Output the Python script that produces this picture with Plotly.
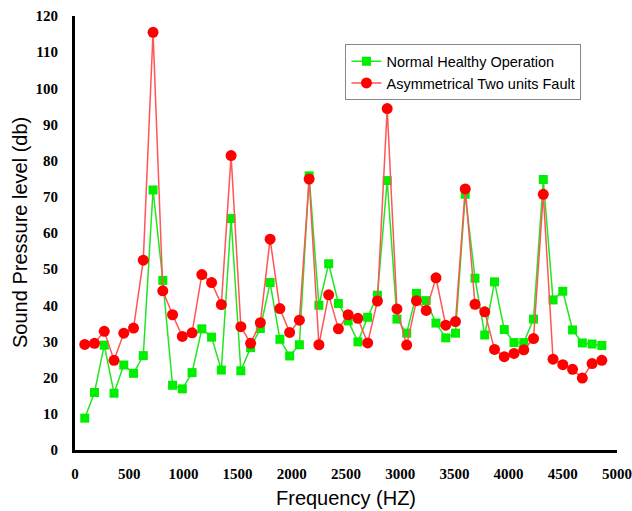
import plotly.graph_objects as go

freq_hz = [90 * k for k in range(1, 55)]

normal_healthy = [
    8.8, 15.9, 29.0, 15.7, 23.5, 21.2, 26.1, 71.9, 46.9, 17.9,
    16.9, 21.4, 33.5, 31.2, 22.1, 64.0, 21.9, 28.3, 33.6, 46.3,
    30.6, 26.0, 29.1, 75.8, 40.0, 51.5, 40.5, 35.7, 29.9, 36.7,
    42.8, 74.5, 36.2, 32.3, 43.3, 41.3, 35.1, 31.0, 32.3, 70.7,
    47.5, 31.8, 46.5, 33.3, 29.7, 29.7, 36.2, 74.8, 41.5, 43.9,
    33.2, 29.6, 29.3, 28.9,
]

asym_fault = [
    29.2, 29.5, 32.8, 24.8, 32.3, 33.7, 52.5, 115.5, 44.0, 37.4,
    31.4, 32.4, 48.5, 46.3, 40.2, 81.4, 34.1, 29.5, 35.2, 58.3,
    39.1, 32.5, 35.9, 74.9, 29.1, 42.9, 33.5, 37.4, 36.4, 29.6,
    41.2, 94.4, 39.0, 29.0, 41.3, 38.6, 47.6, 34.5, 35.5, 72.2,
    40.3, 38.2, 27.8, 25.8, 26.7, 27.7, 30.8, 70.7, 25.1, 23.6,
    22.3, 19.9, 23.9, 24.8,
]

x_ticks = [0, 500, 1000, 1500, 2000, 2500, 3000, 3500, 4000, 4500, 5000]
y_ticks = [0, 10, 20, 30, 40, 50, 60, 70, 80, 90, 100, 110, 120]

fig = go.Figure()
fig.add_trace(go.Scatter(
    x=freq_hz, y=normal_healthy, mode="lines+markers",
    name="Normal Healthy Operation",
    line=dict(color="#22e622", width=1.5),
    marker=dict(symbol="square", size=9, color="#00ee00"),
))
fig.add_trace(go.Scatter(
    x=freq_hz, y=asym_fault, mode="lines+markers",
    name="Asymmetrical Two units Fault",
    line=dict(color="#ff5555", width=1.5),
    marker=dict(symbol="circle", size=11, color="#ff0000"),
))

tick_font = dict(family="Liberation Serif", size=15, color="black", weight="bold")

fig.update_layout(
    width=632, height=511,
    margin=dict(l=75, r=15, t=16, b=61),
    paper_bgcolor="white", plot_bgcolor="white",
    showlegend=True,
    legend=dict(
        x=0.499, y=0.935, xanchor="left", yanchor="top",
        bgcolor="white", bordercolor="#888888", borderwidth=1,
        font=dict(family="Liberation Sans", size=14.5, color="black"),
        tracegroupgap=0,
    ),
    xaxis=dict(
        range=[0, 5000], tickvals=x_ticks, ticktext=[str(v) for v in x_ticks],
        showgrid=False, zeroline=False, showline=True, linecolor="black",
        linewidth=3, ticks="", tickfont=tick_font, ticklabelstandoff=8,
        automargin=False,
    ),
    yaxis=dict(
        range=[0, 120], tickvals=y_ticks, ticktext=[str(v) for v in y_ticks],
        showgrid=False, zeroline=False, showline=True, linecolor="black",
        linewidth=3, ticks="", tickfont=tick_font, ticklabelstandoff=11,
        automargin=False,
    ),
    annotations=[
        dict(text="Frequency (HZ)", xref="paper", yref="paper",
             x=0.5, y=0, yshift=-48, xanchor="center", yanchor="middle",
             showarrow=False,
             font=dict(family="Liberation Sans", size=20, color="black")),
        dict(text="Sound Pressure level (db)", xref="paper", yref="paper",
             x=0, y=0.5, xshift=-55, xanchor="center", yanchor="middle",
             textangle=-90, showarrow=False,
             font=dict(family="Liberation Sans", size=20, color="black")),
    ],
)

fig.write_html("out.html")
